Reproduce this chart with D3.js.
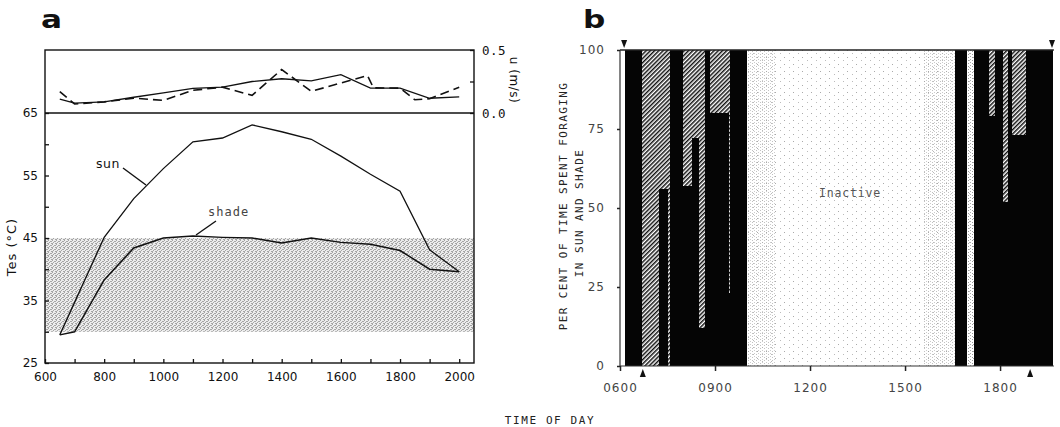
<!DOCTYPE html>
<html><head><meta charset="utf-8">
<script src="https://cdn.jsdelivr.net/npm/d3@7"></script>
<style>
html,body{margin:0;padding:0;background:#fff;}
svg{display:block;}
</style></head>
<body>
<script>
// ---------- Panel a data ----------
const tempTimes = [650,700,800,900,1000,1100,1200,1300,1400,1500,1600,1700,1800,1900,2000];
const sunTemp   = [29.5,34.7,45.1,51.3,56.1,60.4,61.0,63.1,62.0,60.8,58.1,55.2,52.5,43.1,39.6];
const shadeTemp = [29.5,30.0,38.3,43.4,45.0,45.3,45.1,45.0,44.2,45.0,44.3,44.0,43.0,40.0,39.6];
const windSolidTimes = [650,700,800,900,1000,1100,1200,1300,1400,1500,1600,1700,1800,1900,2000];
const windSolid      = [0.11,0.078,0.088,0.125,0.16,0.195,0.205,0.25,0.272,0.255,0.305,0.197,0.197,0.117,0.128];
const windDashTimes  = [650,700,800,900,1000,1100,1200,1300,1400,1500,1690,1710,1800,1850,1900,2000];
const windDash       = [0.17,0.072,0.088,0.118,0.10,0.18,0.205,0.14,0.345,0.172,0.297,0.20,0.197,0.105,0.113,0.205];
const bandRange = [30,45];
const xTicksA = [600,700,800,900,1000,1100,1200,1300,1400,1500,1600,1700,1800,1900,2000];
const xLabelsA = [600,800,1000,1200,1400,1600,1800,2000];
const yTicksA = [25,30,35,40,45,50,55,60,65];
const yLabelsA = [25,35,45,55,65];
const windTicks = [0,0.25,0.5];
const windLabels = [0,0.5];

// ---------- Panel b data (hours) ----------
const barStart = [6.16,6.69,7.23,7.51,7.58,7.97,8.28,8.49,8.67,8.82,9.42,9.47,16.58,17.19,17.63,17.84,18.08,18.24,18.35,18.81];
const barEnd   = [6.69,7.23,7.51,7.58,7.97,8.28,8.49,8.67,8.82,9.42,9.47,9.98,16.95,17.63,17.84,18.08,18.24,18.35,18.81,19.66];
const barSun   = [100,0,56,0,100,57,72,12,100,80,23,100,100,100,79,100,52,100,73,100];
const inactiveStart = [9.98,16.95];
const inactiveEnd   = [16.58,17.19];
const denseStart = [9.98,15.6];
const denseEnd   = [10.9,16.58];
const topArrows = [6.13,19.64];
const bottomArrows = [6.72,18.95];
const xTicksB = [6,9,12,15,18];
const xLabelsB = ["0600","0900","1200","1500","1800"];
const yTicksB = [0,25,50,75,100];

const svg = d3.select("body").append("svg").attr("width",1060).attr("height",427);
const defs = svg.append("defs");

// patterns
const hatch = defs.append("pattern").attr("id","hatch").attr("patternUnits","userSpaceOnUse")
  .attr("width",3).attr("height",3).attr("patternTransform","rotate(45)");
hatch.append("rect").attr("width",3).attr("height",3).attr("fill","#fff");
hatch.append("rect").attr("x",0).attr("y",0).attr("width",1.5).attr("height",3).attr("fill","#111");

const stA = defs.append("pattern").attr("id","stA").attr("patternUnits","userSpaceOnUse").attr("width",4).attr("height",4);
stA.append("rect").attr("width",4).attr("height",4).attr("fill","#ececec");
[[0,0],[2,1],[1,2],[3,3],[3,1],[0,3]].forEach(p=>
  stA.append("rect").attr("x",p[0]).attr("y",p[1]).attr("width",1).attr("height",1).attr("fill","#a5a5a5"));

const stB = defs.append("pattern").attr("id","stB").attr("patternUnits","userSpaceOnUse").attr("width",9).attr("height",7);
stB.append("rect").attr("width",9).attr("height",7).attr("fill","#fff");
stB.append("rect").attr("x",1).attr("y",1).attr("width",1).attr("height",1).attr("fill","#aaa");
stB.append("rect").attr("x",6).attr("y",4).attr("width",1).attr("height",1).attr("fill","#bbb");

const stC = defs.append("pattern").attr("id","stC").attr("patternUnits","userSpaceOnUse").attr("width",4).attr("height",3);
stC.append("rect").attr("x",0).attr("y",0).attr("width",1).attr("height",1).attr("fill","#999");
stC.append("rect").attr("x",2).attr("y",2).attr("width",1).attr("height",1).attr("fill","#aaa");

// ================= Panel a =================
const xA = d3.scaleLinear().domain([600,2050]).range([45,474]);
const yT = d3.scaleLinear().domain([25,65]).range([363,113]);
const yW = d3.scaleLinear().domain([0,0.5]).range([113,50]);

const gA = svg.append("g");
gA.append("rect").attr("x",xA(600)).attr("y",yT(bandRange[1]))
  .attr("width",xA(2050)-xA(600)).attr("height",yT(bandRange[0])-yT(bandRange[1]))
  .attr("fill","url(#stA)");

const lineT = d3.line().x(d=>xA(d[0])).y(d=>yT(d[1]));
gA.append("path").attr("d",lineT(d3.zip(tempTimes,sunTemp))).attr("fill","none").attr("stroke","#111").attr("stroke-width",1.3);
gA.append("path").attr("d",lineT(d3.zip(tempTimes,shadeTemp))).attr("fill","none").attr("stroke","#111").attr("stroke-width",1.5);

const lineW = d3.line().x(d=>xA(d[0])).y(d=>yW(d[1]));
gA.append("path").attr("d",lineW(d3.zip(windSolidTimes,windSolid))).attr("fill","none").attr("stroke","#111").attr("stroke-width",1.3);
gA.append("path").attr("d",lineW(d3.zip(windDashTimes,windDash))).attr("fill","none").attr("stroke","#111").attr("stroke-width",1.6).attr("stroke-dasharray","9,5");

// frame
gA.append("rect").attr("x",xA(600)).attr("y",yW(0.5)).attr("width",xA(2050)-xA(600)).attr("height",yT(25)-yW(0.5))
  .attr("fill","none").attr("stroke","#111").attr("stroke-width",1.4);
gA.append("line").attr("x1",xA(600)).attr("x2",xA(2050)).attr("y1",yT(65)).attr("y2",yT(65)).attr("stroke","#111").attr("stroke-width",1.4);

const fontA = "'DejaVu Sans', sans-serif";
const axA = gA.append("g").attr("transform",`translate(0,${yT(25)})`)
  .call(d3.axisBottom(xA).tickValues(xTicksA).tickSizeInner(-4).tickSizeOuter(0).tickPadding(9)
    .tickFormat(d=> xLabelsA.includes(d) ? d : ""));
const ayA = gA.append("g").attr("transform",`translate(${xA(600)},0)`)
  .call(d3.axisLeft(yT).tickValues(yTicksA).tickSizeInner(-4).tickSizeOuter(0).tickPadding(7)
    .tickFormat(d=> yLabelsA.includes(d) ? d : ""));
const awA = gA.append("g").attr("transform",`translate(${xA(2050)},0)`)
  .call(d3.axisRight(yW).tickValues(windTicks).tickSizeInner(-4).tickSizeOuter(0).tickPadding(8)
    .tickFormat(d=> windLabels.includes(d) ? d3.format(".1f")(d) : ""));
[axA,ayA,awA].forEach(g=>{
  g.select(".domain").remove();
  g.selectAll(".tick line").attr("stroke","#111").attr("stroke-width",1.3);
  g.selectAll("text").attr("fill","#111").style("font-family",fontA).style("font-size","12px");
});
awA.selectAll("text").style("font-family","'DejaVu Sans Mono', monospace").style("font-size","12.5px").attr("letter-spacing","0.5px");

// labels panel a
svg.append("text").attr("transform","translate(41,28) scale(1.3,1)").text("a")
  .style("font-family","'DejaVu Sans', sans-serif").style("font-weight","bold").style("font-size","24px").attr("fill","#111");
svg.append("text").attr("transform","translate(16,247) rotate(-90)").attr("text-anchor","middle")
  .style("font-family",fontA).style("font-size","13px").attr("fill","#111").attr("letter-spacing","1px").text("Tes  (°C)");
svg.append("text").attr("transform","translate(510,80) rotate(90)").attr("text-anchor","middle")
  .style("font-family",fontA).style("font-size","12px").attr("fill","#111").attr("letter-spacing","0.5px").text("u  (m/s)");
svg.append("text").attr("x",96).attr("y",168).text("sun")
  .style("font-family",fontA).style("font-size","12.5px").attr("fill","#111").attr("letter-spacing","0.5px");
svg.append("line").attr("x1",123).attr("y1",168).attr("x2",146).attr("y2",185).attr("stroke","#111").attr("stroke-width",1.4);
svg.append("text").attr("x",208).attr("y",216).text("shade")
  .style("font-family","'DejaVu Sans Mono', monospace").style("font-size","12px").attr("fill","#444").attr("letter-spacing","1px");
svg.append("line").attr("x1",216).attr("y1",221).attr("x2",196).attr("y2",235).attr("stroke","#111").attr("stroke-width",1.4);

// ================= Panel b =================
const xB = d3.scaleLinear().domain([6,19.7]).range([620,1053.9]);
const yB = d3.scaleLinear().domain([0,100]).range([366,50]);
const gB = svg.append("g");

// inactive stipple
gB.selectAll("rect.inact").data(d3.zip(inactiveStart,inactiveEnd)).join("rect").attr("class","inact")
  .attr("x",d=>xB(d[0])).attr("width",d=>xB(d[1])-xB(d[0])).attr("y",yB(100)).attr("height",yB(0)-yB(100))
  .attr("fill","url(#stB)");
gB.selectAll("rect.dense").data(d3.zip(denseStart,denseEnd)).join("rect").attr("class","dense")
  .attr("x",d=>xB(d[0])).attr("width",d=>xB(d[1])-xB(d[0])).attr("y",yB(100)).attr("height",yB(0)-yB(100))
  .attr("fill","url(#stC)").attr("opacity",0.6);
gB.append("rect").attr("x",xB(inactiveStart[1])).attr("width",xB(inactiveEnd[1])-xB(inactiveStart[1]))
  .attr("y",yB(100)).attr("height",yB(0)-yB(100)).attr("fill","url(#stC)");

const bars = d3.zip(barStart,barEnd,barSun);
const gBars = gB.append("g").attr("shape-rendering","crispEdges");
gBars.selectAll("rect.shade").data(bars).join("rect").attr("class","shade")
  .attr("x",d=>xB(d[0])).attr("width",d=>xB(d[1])-xB(d[0])+0.5)
  .attr("y",yB(100)).attr("height",d=>yB(d[2])-yB(100)).attr("fill","url(#hatch)");
gBars.selectAll("rect.sun").data(bars).join("rect").attr("class","sun")
  .attr("x",d=>xB(d[0])).attr("width",d=>xB(d[1])-xB(d[0])+0.5)
  .attr("y",d=>yB(d[2])).attr("height",d=>yB(0)-yB(d[2])).attr("fill","#050505");

// axes b
gB.append("line").attr("x1",xB(6)).attr("x2",xB(19.7)).attr("y1",yB(100)).attr("y2",yB(100)).attr("stroke","#222").attr("stroke-width",1.3);
gB.append("line").attr("x1",xB(6)).attr("x2",xB(6)).attr("y1",yB(100)).attr("y2",yB(0)).attr("stroke","#333").attr("stroke-width",1.2);
gB.append("line").attr("x1",xB(6)).attr("x2",xB(19.7)).attr("y1",yB(0)).attr("y2",yB(0)).attr("stroke","#333").attr("stroke-width",1.2);

const fontB = "'DejaVu Sans', sans-serif";
const axB = gB.append("g").attr("transform",`translate(0,${yB(0)})`)
  .call(d3.axisBottom(xB).tickValues(xTicksB).tickSizeInner(5).tickSizeOuter(0).tickPadding(12)
    .tickFormat((d,i)=>xLabelsB[i]));
const ayB = gB.append("g").attr("transform",`translate(${xB(6)},0)`)
  .call(d3.axisLeft(yB).tickValues(yTicksB).tickSizeInner(3).tickSizeOuter(0).tickPadding(12));
[axB,ayB].forEach(g=>{
  g.select(".domain").remove();
  g.selectAll(".tick line").attr("stroke","#222").attr("stroke-width",1.5);
  g.selectAll("text").attr("fill","#444").style("font-family",fontB).style("font-size","12px").attr("letter-spacing","1px");
});

// arrows
gB.selectAll("path.ta").data(topArrows).join("path").attr("class","ta")
  .attr("d",d=>`M${xB(d)-3},${yB(100)-10}L${xB(d)+3},${yB(100)-10}L${xB(d)},${yB(100)-2}Z`).attr("fill","#111");
gB.selectAll("path.ba").data(bottomArrows).join("path").attr("class","ba")
  .attr("d",d=>`M${xB(d)-3},${yB(0)+11}L${xB(d)+3},${yB(0)+11}L${xB(d)},${yB(0)+3}Z`).attr("fill","#111");

// labels b
svg.append("text").attr("transform","translate(583,28) scale(1.3,1)").text("b")
  .style("font-family","'DejaVu Sans', sans-serif").style("font-weight","bold").style("font-size","24px").attr("fill","#111");
const mono = "'DejaVu Sans Mono', monospace";
svg.append("text").attr("x",850).attr("y",197).attr("text-anchor","middle").text("Inactive")
  .style("font-family",mono).style("font-size","11.5px").attr("fill","#555").attr("letter-spacing","0.8px");
svg.append("text").attr("transform","translate(563,206) rotate(-90)").attr("text-anchor","middle")
  .attr("dominant-baseline","central")
  .style("font-family",mono).style("font-size","11px").attr("fill","#222").attr("letter-spacing","1.4px")
  .text("PER CENT OF TIME SPENT FORAGING");
svg.append("text").attr("transform","translate(579,213) rotate(-90)").attr("text-anchor","middle")
  .attr("dominant-baseline","central")
  .style("font-family",mono).style("font-size","11px").attr("fill","#222").attr("letter-spacing","1.4px")
  .text("IN SUN AND SHADE");
svg.append("text").attr("x",550).attr("y",424).attr("text-anchor","middle").text("TIME OF DAY")
  .style("font-family",mono).style("font-size","11px").attr("fill","#222").attr("letter-spacing","1.6px");
</script>
</body></html>
